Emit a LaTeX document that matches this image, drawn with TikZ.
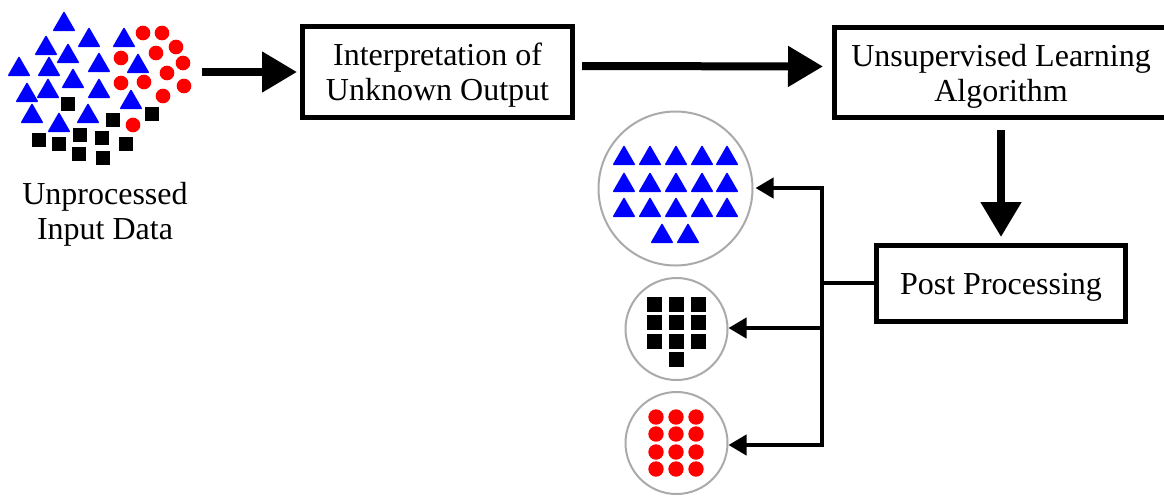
\documentclass[tikz,border=0pt]{standalone}
\usepackage{fontspec}
\setmainfont{Liberation Serif}
\usetikzlibrary{arrows.meta}

\definecolor{dotblue}{RGB}{0,0,255}
\definecolor{dotred}{RGB}{255,0,0}
\definecolor{ringgray}{RGB}{170,170,170}

\tikzset{
  procbox/.style={draw=black, line width=5pt, fill=white, align=center,
    font=\fontsize{32}{35}\selectfont, inner sep=0pt, text depth=0pt},
  bigarrow/.style={line width=8pt, -{Triangle[length=35pt,width=39pt]}},
  smallarrow/.style={line width=4pt, -{Triangle[length=18pt,width=20pt]}},
  branch/.style={line width=4pt},
  ring/.style={circle, draw=ringgray, line width=2pt, inner sep=0pt},
  label/.style={align=center, font=\fontsize{32}{35}\selectfont},
  tri/.pic={\fill[dotblue, rounded corners=1pt] (-11.5,10) -- (11.5,10) -- (0,-10) -- cycle;},
  sq/.pic={\fill[black] (-7.5,-7.5) rectangle (7.5,7.5);},
  dot/.pic={\fill[dotred] (0,0) circle (7.7);}
}

\begin{document}
\begin{tikzpicture}[x=1pt, y=-1pt]
\useasboundingbox (0,0) rectangle (1164,496);

% ---- unprocessed data cloud ----
\foreach \p in {(64,21),(89,37),(124,37),(46,45),(68,53),(99,62),(19,66),(49,66),
  (138,63),(73,78),(27,92),(48,88),(99,88),(131,99),(32,113),(88,113),(59,122)}
  \pic at \p {tri};
\foreach \p in {(143,33),(162,33),(176,47),(156,53),(121,58),(183,63),(167,73),
  (121,83),(144,82),(184,86),(163,96),(133,125)}
  \pic[scale=0.95] at \p {dot};
\foreach \p in {(68,104),(113,120),(152,114),(39,140),(59,144),(80,135),(102,138),
  (126,144),(79,154),(103,158)}
  \pic[scale=0.95] at \p {sq};
\coordinate (cloud) at (202,72);
\node[label] (inlbl) at (105,214) {Unprocessed\\Input Data};

% ---- process boxes ----
\node[procbox, minimum width=270pt, minimum height=91pt] (interp) at (437.5,72)
  {Interpretation of\\Unknown Output};
\node[procbox, minimum width=333pt, minimum height=90pt] (unsup) at (1001,72.5)
  {Unsupervised Learning\\Algorithm};
\node[procbox, minimum width=249pt, minimum height=76pt] (post) at (1001,283.5)
  {Post Processing};

% ---- clusters ----
\node[ring, minimum size=154pt] (c1) at (675.5,188.5) {};
\node[ring, minimum size=102pt] (c2) at (676.5,329) {};
\node[ring, minimum size=102pt] (c3) at (676.5,443) {};

\foreach \y in {155,182,207} \foreach \x in {624,650,676,702,727}
  \pic at (\x,\y) {tri};
\foreach \x in {662,688} \pic at (\x,233) {tri};

\foreach \y in {304,322,341} \foreach \x in {654,676,698}
  \pic at (\x,\y) {sq};
\pic at (676,359) {sq};

\foreach \y in {417,434,452,469} \foreach \x in {656,676,696}
  \pic at (\x,\y) {dot};

% ---- connectors ----
\draw[bigarrow, shorten >=3pt] (cloud) -- (interp.west |- cloud);
\draw[bigarrow, shorten <=7pt, shorten >=9pt]
  ([yshift=6pt]interp.east) -- ([yshift=6pt]unsup.west);
\draw[bigarrow, shorten <=10pt, shorten >=6pt] (unsup.south) -- (post.north);

\coordinate (junc) at (822,283);
\coordinate (b1) at (822,188);
\coordinate (b2) at (822,328);
\coordinate (b3) at (822,445);
\draw[branch] (post.west |- junc) -- (junc);
\draw[branch, line cap=rect] (b1) -- (b3);
\draw[smallarrow, shorten >=2pt] (b1) -- (c1.east |- b1);
\draw[smallarrow] (b2) -- (c2.east |- b2);
\draw[smallarrow] (b3) -- (c3.east |- b3);
\end{tikzpicture}
\end{document}
